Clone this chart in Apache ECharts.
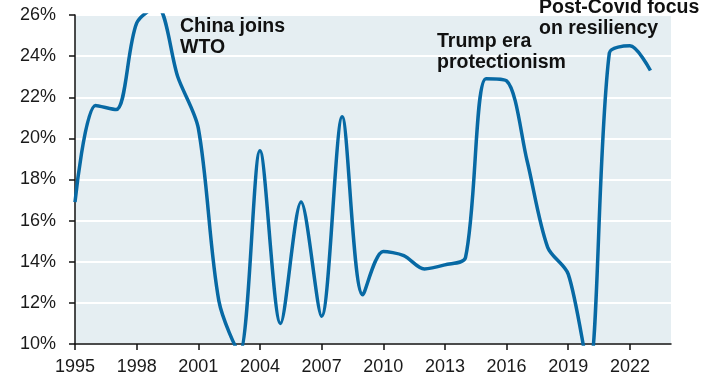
<!DOCTYPE html>
<html>
<head>
<meta charset="utf-8">
<script src="https://cdn.jsdelivr.net/npm/echarts@6/dist/echarts.min.js"></script>
<style>
html,body{margin:0;padding:0;background:#fff;}
#chart{width:705px;height:378px;}
</style>
</head>
<body>
<div id="chart"></div>
<script>
const years = [1995,1996,1997,1998,1999,2000,2001,2002,2003,2004,2005,2006,2007,2008,2009,2010,2011,2012,2013,2014,2015,2016,2017,2018,2019,2020,2021,2022,2023];
const shares = [16.9,21.6,21.4,25.6,26.4,23.0,20.5,12.1,9.6,19.4,11.0,16.9,11.35,21.05,12.4,14.5,14.3,13.65,13.85,14.2,22.9,22.8,18.9,14.7,13.4,8.8,24.15,24.5,23.3];
const xTicks = [1995,1998,2001,2004,2007,2010,2013,2016,2019,2022];
const yTicks = [10,12,14,16,18,20,22,24,26];
const notes = [
  {text: 'China joins\nWTO', x: 180, y: 16},
  {text: 'Trump era\nprotectionism', x: 437, y: 31},
  {text: 'Post-Covid focus\non resiliency', x: 539, y: -3}
];

const chart = echarts.init(document.getElementById('chart'), null, {renderer: 'canvas'});
const font = 'Liberation Sans, Arial, sans-serif';
chart.setOption({
  animation: false,
  grid: {left: 75, right: 34, top: 15, bottom: 34, show: true, backgroundColor: '#e5eef2', borderWidth: 0},
  xAxis: {
    type: 'value', min: 1995, max: 2024, interval: 3,
    axisLine: {show: true, lineStyle: {color: '#111', width: 1.5}},
    axisTick: {show: true, length: 6, lineStyle: {color: '#111', width: 1.5}, customValues: xTicks},
    axisLabel: {fontSize: 18, color: '#1a1a1a', fontFamily: font, margin: 14, customValues: xTicks, formatter: v => String(v)},
    splitLine: {show: false}
  },
  yAxis: {
    type: 'value', min: yTicks[0], max: yTicks[yTicks.length-1], interval: 2,
    axisLine: {show: true, lineStyle: {color: '#111', width: 1.5}},
    axisTick: {show: true, length: 6, lineStyle: {color: '#111', width: 1.5}},
    axisLabel: {fontSize: 18, color: '#1a1a1a', fontFamily: font, margin: 19, formatter: '{value}%'},
    splitLine: {show: true, lineStyle: {color: '#ffffff', width: 2}}
  },
  series: [{
    type: 'line',
    data: years.map((y, i) => [y, shares[i]]),
    smooth: 0.3,
    showSymbol: false,
    clip: true,
    lineStyle: {color: '#0769a4', width: 3.5}
  }],
  graphic: notes.map(n => ({
    type: 'text', left: n.x, top: n.y, z: 100,
    style: {text: n.text, fontSize: 19.5, fontWeight: 'bold', fontFamily: font, fill: '#111', lineHeight: 21}
  }))
});
</script>
</body>
</html>
